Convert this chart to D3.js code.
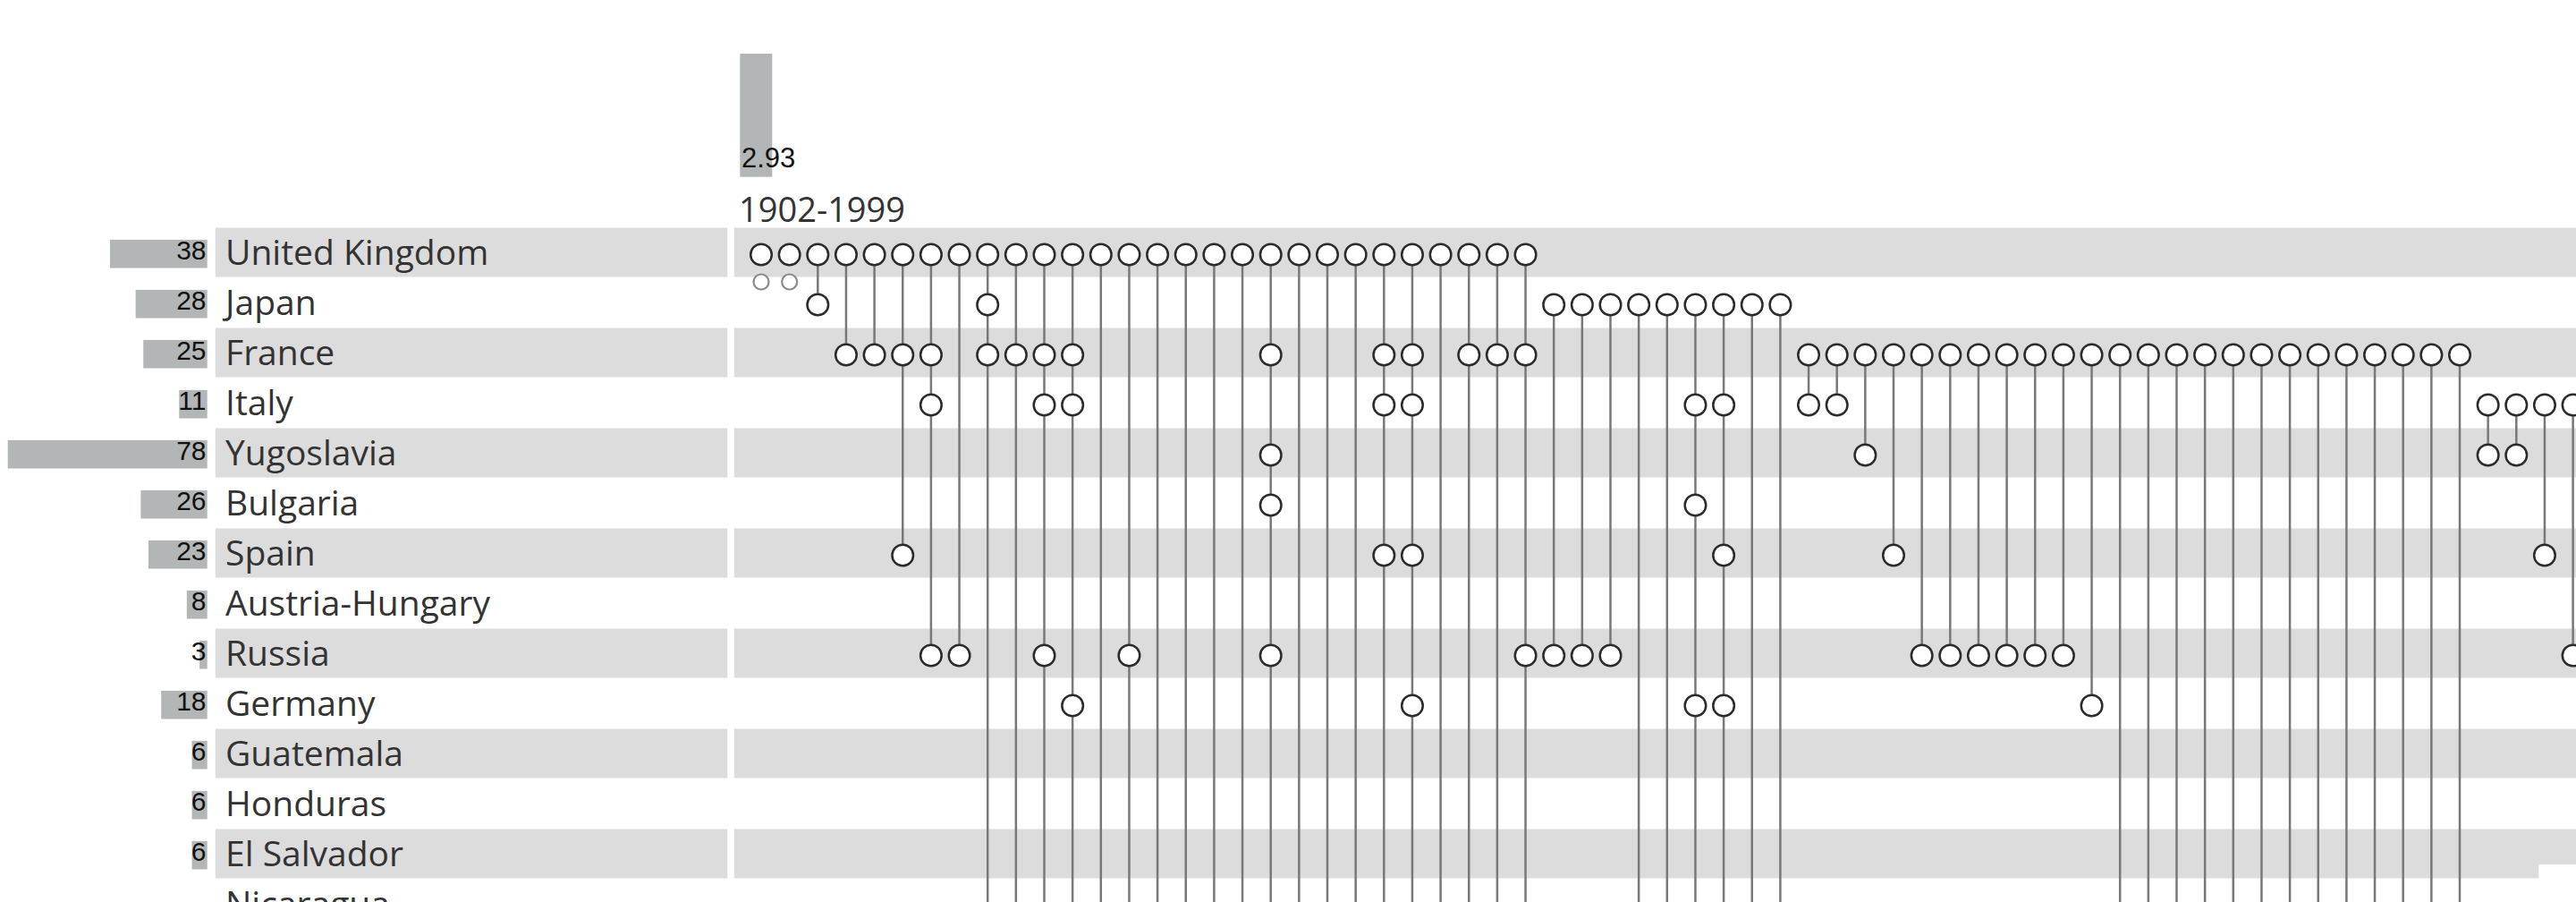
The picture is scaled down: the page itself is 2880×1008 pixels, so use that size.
<!DOCTYPE html>
<html>
<head>
<meta charset="utf-8">
<script src="https://cdn.jsdelivr.net/npm/d3@7"></script>
<style>
  html, body { margin: 0; padding: 0; background: #fff; }
  svg { display: block; }
</style>
</head>
<body>
<svg id="chart" width="2880" height="1008"></svg>
<script>
// ---------- data ----------
const countries = ["United Kingdom", "Japan", "France", "Italy", "Yugoslavia", "Bulgaria", "Spain",
  "Austria-Hungary", "Russia", "Germany", "Guatemala", "Honduras", "El Salvador", "Nicaragua"];
const allianceCounts = [38, 28, 25, 11, 78, 26, 23, 8, 3, 18, 6, 6, 6, null];

// member rows (indices into countries) of each alliance column, left to right
const columnMembers = [
  [0], [0], [0, 1], [0, 2], [0, 2], [0, 2, 6], [0, 2, 3, 8], [0, 8], [0, 1, 2], [0, 2],
  [0, 2, 3, 8], [0, 2, 3, 9], [0], [0, 8], [0], [0], [0], [0], [0, 2, 4, 5, 8], [0],
  [0], [0], [0, 2, 3, 6], [0, 2, 3, 6, 9], [0], [0, 2], [0, 2], [0, 2, 8],
  [1, 8], [1, 8], [1, 8], [1], [1], [1, 3, 5, 9], [1, 3, 6, 9], [1], [1],
  [2, 3], [2, 3], [2, 4], [2, 6], [2, 8], [2, 8], [2, 8], [2, 8], [2, 8], [2, 8], [2, 9],
  [2], [2], [2], [2], [2], [2], [2], [2], [2], [2], [2], [2], [2],
  [3, 4], [3, 4], [3, 6], [3, 8]
];
// columns whose members continue in rows below the visible frame
const continuesBelow = [8, 9, 10, 11, 12, 13, 14, 15, 16, 17, 18, 19, 20, 21, 22, 23, 24, 25, 26, 27,
  31, 32, 33, 34, 35, 36, 48, 49, 50, 51, 52, 53, 54, 55, 56, 57, 58, 59, 60];
// columns with a small extra marker below the first row
const smallMarkers = [0, 1];

const headerValue = 2.93;
const headerValueLabel = "2.93";
const headerPeriod = "1902-1999";

// ---------- layout ----------
const svg = d3.select("#chart");
const W = 2880, H = 1008;
const rowStep = 56, rowTop0 = 254.5, bandH = 55;

const yTop = d3.scaleLinear().domain([0, 1]).range([rowTop0, rowTop0 + rowStep]);
const yCenter = i => yTop(i) + 30;
const x = d3.scaleLinear().domain([0, 64]).range([851, 2876.6]);
const barScale = d3.scaleLinear().domain([0, 78]).range([0, 223]);
const headScale = d3.scaleLinear().domain([0, 3]).range([0, 141]);

const labelFont = "'Open Sans', 'Noto Sans', sans-serif";
const numFont = "'Liberation Sans', Arial, sans-serif";

// bands
const bands = svg.append("g");
countries.forEach((c, i) => {
  if (i % 2 === 0) {
    bands.append("rect").attr("x", 240.7).attr("y", yTop(i)).attr("width", 813.2 - 240.7)
      .attr("height", bandH).attr("fill", "#dcdcdc");
    bands.append("rect").attr("x", 820.8).attr("y", yTop(i)).attr("width", W - 820.8)
      .attr("height", bandH).attr("fill", "#dcdcdc");
  }
});
// white box at bottom right
svg.append("rect").attr("x", 2838.3).attr("y", 966).attr("width", W - 2838.3).attr("height", H - 966)
  .attr("fill", "#fff");

// left count bars and numbers
const left = svg.append("g");
countries.forEach((c, i) => {
  const v = allianceCounts[i];
  if (v != null) {
    left.append("rect").attr("x", 231.7 - barScale(v)).attr("y", yTop(i) + 13.4)
      .attr("width", barScale(v)).attr("height", 31.6).attr("fill", "#b3b6b7");
    left.append("text").attr("x", 230.5).attr("y", yTop(i) + 35).attr("text-anchor", "end")
      .attr("font-family", numFont).attr("font-size", 30).attr("fill", "#111").text(v);
  }
  left.append("text").attr("x", 252).attr("y", yTop(i) + 41)
    .attr("font-family", labelFont).attr("font-size", 39).attr("fill", "#333").text(c);
});

// header bar
svg.append("rect").attr("x", 827.3).attr("y", 197.7 - headScale(headerValue)).attr("width", 36)
  .attr("height", headScale(headerValue)).attr("fill", "#b3b6b7");
svg.append("text").attr("x", 829).attr("y", 186.7).attr("font-family", numFont).attr("font-size", 31)
  .attr("fill", "#111").text(headerValueLabel);
svg.append("text").attr("x", 826).attr("y", 247.5).attr("font-family", labelFont).attr("font-size", 38)
  .attr("fill", "#333").text(headerPeriod);

// stems
const stems = svg.append("g").attr("stroke", "#787878").attr("stroke-width", 2.5);
columnMembers.forEach((m, k) => {
  const y1 = yCenter(d3.min(m));
  const y2 = continuesBelow.includes(k) ? H + 20 : yCenter(d3.max(m));
  if (y2 > y1) stems.append("line").attr("x1", x(k)).attr("x2", x(k)).attr("y1", y1).attr("y2", y2);
});

// small markers
svg.append("g").selectAll("circle").data(smallMarkers).join("circle")
  .attr("cx", d => x(d)).attr("cy", yCenter(0) + 30.5).attr("r", 8.5)
  .attr("fill", "#fff").attr("stroke", "#8a8a8a").attr("stroke-width", 2.2);

// member circles
const pts = [];
columnMembers.forEach((m, k) => m.forEach(r => pts.push({ k, r })));
svg.append("g").selectAll("circle").data(pts).join("circle")
  .attr("cx", d => x(d.k)).attr("cy", d => yCenter(d.r)).attr("r", 11.8)
  .attr("fill", "#fff").attr("stroke", "#2b2b2b").attr("stroke-width", 2.5);
</script>
</body>
</html>
